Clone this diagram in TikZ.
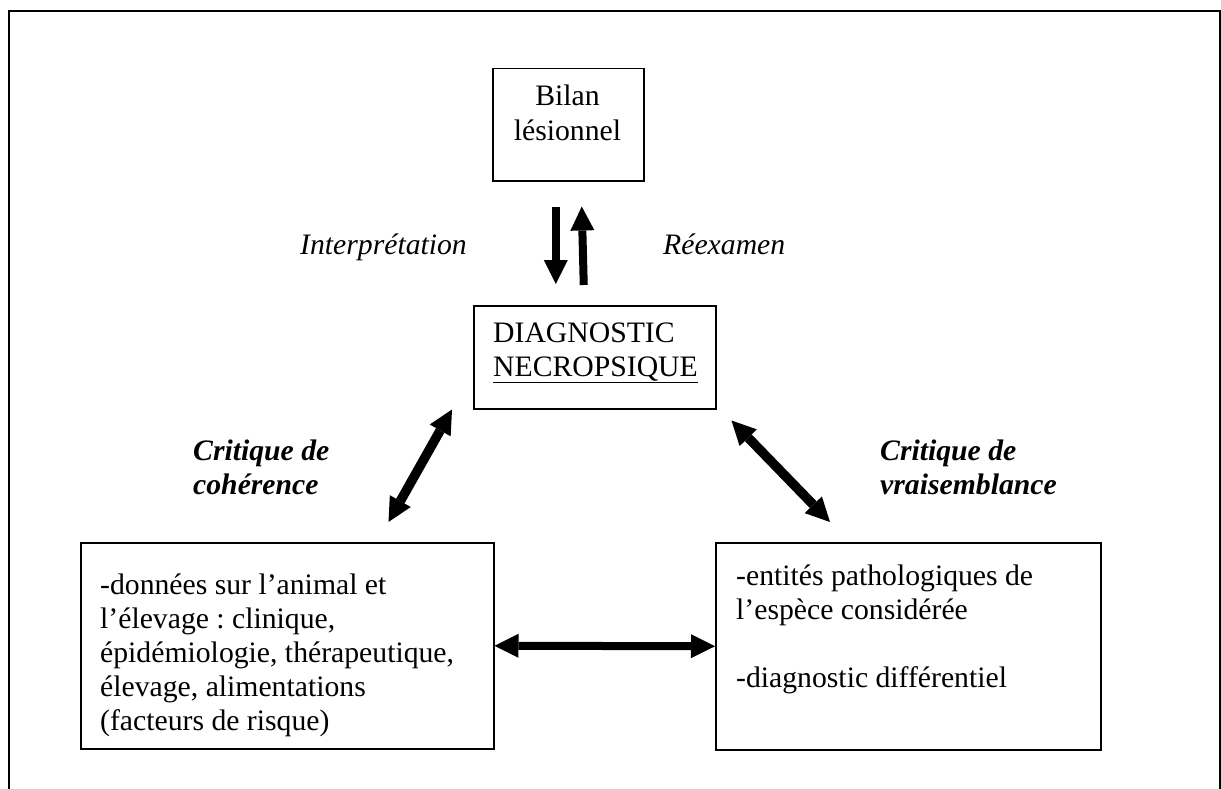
\documentclass[tikz,border=0pt]{standalone}
\usepackage{fontspec}
\setmainfont{Liberation Serif}
\usetikzlibrary{arrows.meta}
\frenchspacing
\begin{document}
\begin{tikzpicture}[x=1pt,y=-1pt,
  >={Triangle[length=24pt,width=24pt,line width=0pt]},
  frame/.style={line width=2pt},
  box/.style={draw, line width=1.5pt, inner sep=0pt, anchor=north west},
  txt/.style={inner sep=0pt, anchor=base west, font=\fontsize{29.7}{34.2}\selectfont},
  ctxt/.style={txt, anchor=base},
  lbl/.style={txt, font=\fontsize{29.7}{34.2}\selectfont\itshape},
  blbl/.style={txt, font=\fontsize{29.7}{34.2}\selectfont\bfseries\itshape},
  thick arrow/.style={line width=8pt},
  diag arrow/.style={line width=9.5pt, <->}
]
\useasboundingbox (0,0) rectangle (1221,789);

% open outer frame
\draw[frame] (9,789) -- (9,11) -- (1220,11) -- (1220,789);

% boxes
\node[box, minimum width=151pt, minimum height=112pt] (bilan) at (492,68) {};
\node[box, minimum width=242pt, minimum height=103pt] (diag) at (473,305) {};
\node[box, minimum width=413pt, minimum height=206pt] (left) at (80,542) {};
\node[box, minimum width=385pt, minimum height=207pt] (right) at (715,542) {};

% box texts
\node[ctxt] (bilantxt) at (567.5,106) {\parbox[t]{151pt}{\centering Bilan\\l\'esionnel}};
\node[txt] (diagtxt) at (493,342) {\parbox[t]{230pt}{DIAGNOSTIC\\\underline{NECROPSIQUE}}};
\node[txt] (lefttxt) at (100,594) {\parbox[t]{390pt}{-données sur l’animal et\\l’élevage : clinique,\\épidémiologie, thérapeutique,\\élevage, alimentations\\(facteurs de risque)}};
\node[txt] (righttxt) at (736,585) {\parbox[t]{360pt}{-entités pathologiques de\\l’espèce considérée\\[34.2pt]-diagnostic différentiel}};

% labels
\node[lbl] (interp) at (300,254) {Interprétation};
\node[lbl] (reex) at (663,254) {Réexamen};
\node[blbl] (coh) at (193,460) {\parbox[t]{200pt}{Critique de\\cohérence}};
\node[blbl] (vrai) at (880,460) {\parbox[t]{220pt}{Critique de\\vraisemblance}};

% connectors
\draw[thick arrow, ->] ([xshift=-12.5pt,yshift=-25pt]bilan.south) -- ([xshift=-39pt,yshift=21pt]diag.north);
\draw[thick arrow, ->] ([xshift=-11pt,yshift=20pt]diag.north) -- ([xshift=13.5pt,yshift=-25pt]bilan.south);
\draw[diag arrow] ([xshift=-21pt]diag.south west) -- ([xshift=-106pt,yshift=20pt]left.north east);
\draw[diag arrow] ([xshift=15pt,yshift=-11pt]diag.south east) -- ([xshift=115pt,yshift=20pt]right.north west);
\draw[thick arrow, <->] (left.east) -- (right.west);
\end{tikzpicture}
\end{document}
